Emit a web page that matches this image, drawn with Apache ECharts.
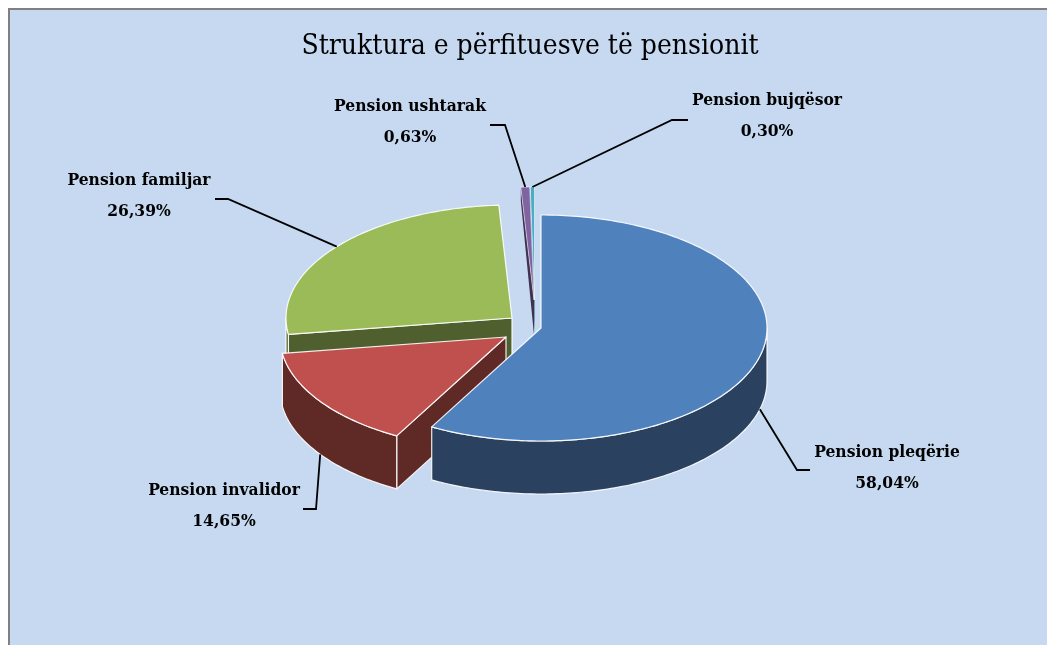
<!DOCTYPE html>
<html>
<head>
<meta charset="utf-8">
<style>html,body{margin:0;padding:0;background:#fff}#c{width:1047px;height:645px}</style>
<script src="https://cdn.jsdelivr.net/npm/echarts@6/dist/echarts.min.js"></script>
</head>
<body>
<div id="c"></div>
<script>
const titleText = 'Struktura e përfituesve të pensionit';
const categories = ['Pension pleqërie', 'Pension invalidor', 'Pension familjar', 'Pension ushtarak', 'Pension bujqësor'];
const values = [58.04, 14.65, 26.39, 0.63, 0.30];
const topColors = ['#4F81BD', '#C0504D', '#9BBB59', '#8064A2', '#4BACC6'];
const wallColors = ['#2A4160', '#5F2926', '#4F5F2D', '#3F3151', '#256273'];
// Exploded centres of each slice on the page
const centres = [[541, 328], [506, 337], [512, 318], [534, 300], [534.5, 300]];
// Label centres and leader-line elbows
const labelPos = [[887, 468], [224, 506], [139, 196], [410, 122], [767, 116]];
const elbows = [[[797, 470], [810, 470]], [[316, 509], [303, 509]], [[228, 199], [215, 199]], [[505, 125], [490, 125]], [[672, 120], [688, 120]]];
const leaderDrop = [1, 1, 0, 0, 0];

const RX = 226, RY = 113, DEPTH = 53;
const FONT = '"DejaVu Serif Condensed","DejaVu Serif",serif';
const total = values.reduce((a, b) => a + b, 0);
const rad = d => d * Math.PI / 180;
function pt(c, deg, dy) {
  return [c[0] + RX * Math.sin(rad(deg)), c[1] - RY * Math.cos(rad(deg)) + (dy || 0)];
}
function arc(c, a, b, dy) {
  const n = Math.max(2, Math.ceil(Math.abs(b - a)));
  const out = [];
  for (let i = 0; i <= n; i++) out.push(pt(c, a + (b - a) * i / n, dy));
  return out;
}
function renderSlice(params, api) {
  const i = params.dataIndex;
  const v = api.value(0);
  let before = 0;
  for (let k = 0; k < i; k++) before += values[k];
  const a = before / total * 360, b = (before + v) / total * 360;
  const c = centres[i];
  const z = 10 - i;
  const back = a > 300;
  const stroke = { stroke: 'rgba(255,255,255,0.9)', lineWidth: back ? 0.6 : 1.2, lineJoin: 'round' };
  const kids = [];
  // cut face at the start angle
  if (a > 180) {
    const f = Math.max(0.25, Math.min(1, 1.1 * (0.5 - 0.5 * Math.cos(rad(a)))));
    kids.push({
      type: 'polygon', z2: z,
      shape: { points: [pt(c, a), c, [c[0], c[1] + DEPTH * (back ? 0.66 : 1)], pt(c, a, DEPTH * f)] },
      style: Object.assign({ fill: wallColors[i] }, back ? { stroke: null } : stroke)
    });
  }
  // outer wall on the front half
  const w1 = Math.max(a, 90), w2 = Math.min(b, 270);
  if (w2 > w1) {
    kids.push({
      type: 'polygon', z2: z,
      shape: { points: arc(c, w1, w2, 0).concat(arc(c, w2, w1, DEPTH)) },
      style: Object.assign({ fill: wallColors[i] }, stroke)
    });
  }
  // top face
  kids.push({
    type: 'polygon', z2: z + 0.5,
    shape: { points: [c].concat(arc(c, a, b, 0)) },
    style: Object.assign({ fill: topColors[i] }, stroke)
  });
  // leader line
  const mid = (a + b) / 2;
  kids.push({
    type: 'polyline', z2: 30,
    shape: { points: [pt(c, mid, leaderDrop[i] * DEPTH)].concat(elbows[i]) },
    style: { stroke: '#000', lineWidth: 1.8, fill: null }
  });
  // label
  kids.push({
    type: 'text', z2: 31,
    x: labelPos[i][0], y: labelPos[i][1],
    style: {
      text: categories[i] + '\n' + v.toFixed(2).replace('.', ',') + '%',
      font: 'bold 17.3px ' + FONT, lineHeight: 31,
      fill: '#000', align: 'center', verticalAlign: 'middle'
    }
  });
  return { type: 'group', children: kids };
}
const chart = echarts.init(document.getElementById('c'), null, { renderer: 'canvas' });
chart.setOption({
  animation: false,
  backgroundColor: '#fff',
  title: {
    text: titleText, left: 525, top: 28, textAlign: 'center',
    textStyle: { fontFamily: FONT, fontSize: 28, fontWeight: 'normal', color: '#000' }
  },
  graphic: [{
    type: 'rect', z: -10, silent: true,
    shape: { x: 9, y: 9, width: 1200, height: 800 },
    style: { fill: '#C6D9F1', stroke: '#808080', lineWidth: 2 }
  }],
  series: [{
    type: 'custom', coordinateSystem: 'none', silent: true,
    renderItem: renderSlice,
    data: values.map((v, i) => ({ name: categories[i], value: [v] }))
  }]
});
</script>
</body>
</html>
